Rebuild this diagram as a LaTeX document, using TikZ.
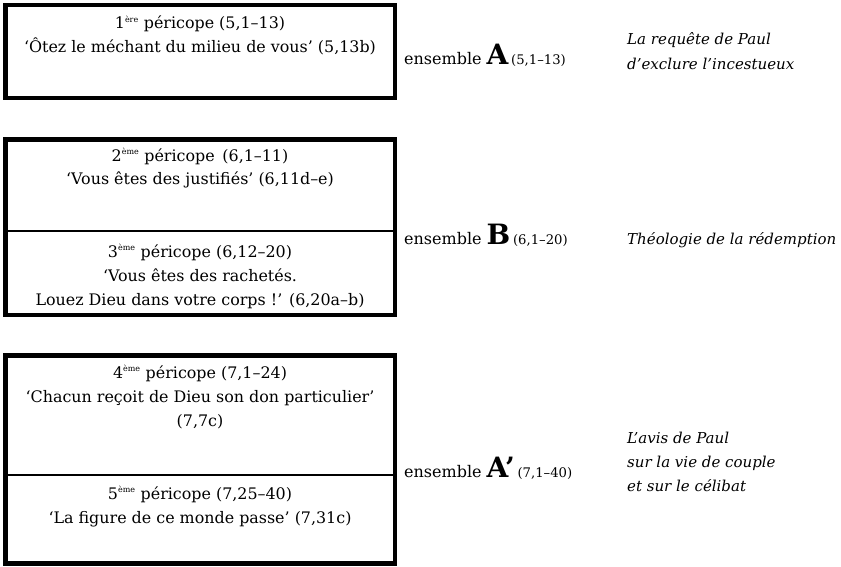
\documentclass[tikz,border=0pt]{standalone}
\usepackage{fontspec}
\setmainfont{DejaVu Serif}
\tikzset{
  frame/.style={draw, line width=4.5pt, minimum width=389.5pt},
  divider/.style={line width=1.2pt},
  txt/.style={font=\fontsize{15.9}{18}\selectfont, anchor=base, inner sep=0pt},
  ens/.style={font=\fontsize{16}{18}\selectfont, anchor=base west, inner sep=0pt},
  note/.style={font=\itshape\fontsize{15}{18}\selectfont, anchor=base west, inner sep=0pt},
}
\newcommand{\mysup}[1]{\textsuperscript{\fontsize{8}{9}\selectfont #1}}
\newcommand{\mybig}[1]{{\fontsize{28}{28}\selectfont\bfseries #1}}
\newcommand{\myref}[1]{{\fontsize{13.2}{14}\selectfont #1}}
\begin{document}
\begin{tikzpicture}[x=1pt,y=-1pt]
\useasboundingbox (0,0) rectangle (841,567);
% frames
\node[frame, minimum height=93pt] (boxA) at (200.25,51.5) {};
\node[frame, minimum height=175.5pt] (boxB) at (200.25,227.25) {};
\node[frame, minimum height=208pt] (boxC) at (200.25,459.5) {};
\coordinate (dB) at (0,231);
\coordinate (dC) at (0,475);
\draw[divider] (boxB.west |- dB) -- (boxB.east |- dB);
\draw[divider] (boxC.west |- dC) -- (boxC.east |- dC);
% box A texts
\node[txt] (a1) at (200,29) {1\mysup{ère} péricope (5,1–13)};
\node[txt] (a2) at (200,53) {‘Ôtez le méchant du milieu de vous’ (5,13b)};
% box B texts
\node[txt] (b1) at (200,161) {2\mysup{ème} péricope\, (6,1–11)};
\node[txt] (b2) at (200,185) {‘Vous êtes des justifiés’ (6,11d–e)};
\node[txt] (b3) at (200,257) {3\mysup{ème} péricope (6,12–20)};
\node[txt] (b4) at (200,281) {‘Vous êtes des rachetés.};
\node[txt] (b5) at (200,305) {Louez Dieu dans votre corps !’ (6,20a–b)};
% box C texts
\node[txt] (c1) at (200,378) {4\mysup{ème} péricope (7,1–24)};
\node[txt] (c2) at (200,402) {‘Chacun reçoit de Dieu son don particulier’};
\node[txt] (c3) at (200,426) {(7,7c)};
\node[txt] (c4) at (200,499) {5\mysup{ème} péricope (7,25–40)};
\node[txt] (c5) at (200,523) {‘La figure de ce monde passe’ (7,31c)};
% ensembles
\node[ens] (eA) at (404,65) {ensemble \mybig{A}\,\myref{(5,1–13)}};
\node[ens] (eB) at (404,244) {ensemble \mybig{B}\,\myref{(6,1–20)}};
\node[ens] (eC) at (404,477) {ensemble \mybig{A’}\,\myref{(7,1–40)}};
% notes
\node[note] (nA1) at (627,45) {La requête de Paul};
\node[note] (nA2) at (627,70) {d’exclure l’incestueux};
\node[note] (nB) at (627,244) {Théologie de la rédemption};
\node[note] (nC1) at (627,443) {L’avis de Paul};
\node[note] (nC2) at (627,467) {sur la vie de couple};
\node[note] (nC3) at (627,491) {et sur le célibat};
\end{tikzpicture}
\end{document}
